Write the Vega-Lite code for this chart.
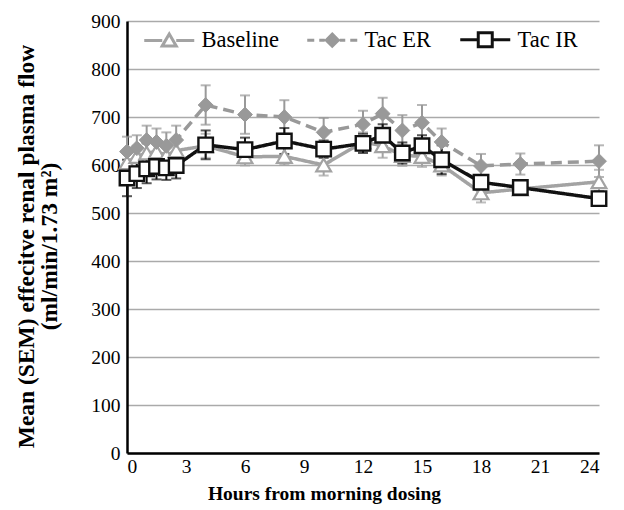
{
  "$schema": "https://vega.github.io/schema/vega-lite/v6.json",
  "width": 472,
  "height": 432,
  "autosize": {"type": "none"},
  "padding": {"left": 127, "top": 21, "right": 25, "bottom": 57},
  "background": "white",
  "config": {"font": "Liberation Serif", "view": {"stroke": null}},
  "data": {
    "values": [
      {"hour": 0, "group": "Baseline", "mean": 605, "sem": 22},
      {"hour": 0.5, "group": "Baseline", "mean": 618, "sem": 22},
      {"hour": 1, "group": "Baseline", "mean": 625, "sem": 25},
      {"hour": 1.5, "group": "Baseline", "mean": 628, "sem": 22},
      {"hour": 2, "group": "Baseline", "mean": 620, "sem": 20},
      {"hour": 2.5, "group": "Baseline", "mean": 630, "sem": 22},
      {"hour": 4, "group": "Baseline", "mean": 640, "sem": 25},
      {"hour": 6, "group": "Baseline", "mean": 617, "sem": 18},
      {"hour": 8, "group": "Baseline", "mean": 618, "sem": 18},
      {"hour": 10, "group": "Baseline", "mean": 600, "sem": 22},
      {"hour": 12, "group": "Baseline", "mean": 648, "sem": 20},
      {"hour": 13, "group": "Baseline", "mean": 640, "sem": 25},
      {"hour": 14, "group": "Baseline", "mean": 620, "sem": 22},
      {"hour": 15, "group": "Baseline", "mean": 618, "sem": 22},
      {"hour": 16, "group": "Baseline", "mean": 600, "sem": 22},
      {"hour": 18, "group": "Baseline", "mean": 542, "sem": 20},
      {"hour": 20, "group": "Baseline", "mean": 550, "sem": 12},
      {"hour": 24, "group": "Baseline", "mean": 565, "sem": 25},
      {"hour": 0, "group": "Tac ER", "mean": 628, "sem": 31},
      {"hour": 0.5, "group": "Tac ER", "mean": 635, "sem": 27},
      {"hour": 1, "group": "Tac ER", "mean": 652, "sem": 30},
      {"hour": 1.5, "group": "Tac ER", "mean": 648, "sem": 28},
      {"hour": 2, "group": "Tac ER", "mean": 640, "sem": 28},
      {"hour": 2.5, "group": "Tac ER", "mean": 652, "sem": 30},
      {"hour": 4, "group": "Tac ER", "mean": 725, "sem": 41},
      {"hour": 6, "group": "Tac ER", "mean": 705, "sem": 40},
      {"hour": 8, "group": "Tac ER", "mean": 700, "sem": 35},
      {"hour": 10, "group": "Tac ER", "mean": 668, "sem": 30},
      {"hour": 12, "group": "Tac ER", "mean": 685, "sem": 28},
      {"hour": 13, "group": "Tac ER", "mean": 707, "sem": 33},
      {"hour": 14, "group": "Tac ER", "mean": 672, "sem": 32},
      {"hour": 15, "group": "Tac ER", "mean": 688, "sem": 37},
      {"hour": 16, "group": "Tac ER", "mean": 648, "sem": 28},
      {"hour": 18, "group": "Tac ER", "mean": 598, "sem": 25},
      {"hour": 20, "group": "Tac ER", "mean": 602, "sem": 22},
      {"hour": 24, "group": "Tac ER", "mean": 608, "sem": 33},
      {"hour": 0, "group": "Tac IR", "mean": 573, "sem": 38},
      {"hour": 0.5, "group": "Tac IR", "mean": 582, "sem": 30},
      {"hour": 1, "group": "Tac IR", "mean": 592, "sem": 30},
      {"hour": 1.5, "group": "Tac IR", "mean": 597, "sem": 27},
      {"hour": 2, "group": "Tac IR", "mean": 594, "sem": 25},
      {"hour": 2.5, "group": "Tac IR", "mean": 599, "sem": 27},
      {"hour": 4, "group": "Tac IR", "mean": 642, "sem": 30},
      {"hour": 6, "group": "Tac IR", "mean": 632, "sem": 25},
      {"hour": 8, "group": "Tac IR", "mean": 650, "sem": 27},
      {"hour": 10, "group": "Tac IR", "mean": 633, "sem": 18},
      {"hour": 12, "group": "Tac IR", "mean": 645, "sem": 20},
      {"hour": 13, "group": "Tac IR", "mean": 662, "sem": 23},
      {"hour": 14, "group": "Tac IR", "mean": 625, "sem": 22},
      {"hour": 15, "group": "Tac IR", "mean": 640, "sem": 22},
      {"hour": 16, "group": "Tac IR", "mean": 611, "sem": 30},
      {"hour": 18, "group": "Tac IR", "mean": 564, "sem": 15},
      {"hour": 20, "group": "Tac IR", "mean": 553, "sem": 12},
      {"hour": 24, "group": "Tac IR", "mean": 530, "sem": 15}
    ]
  },
  "encoding": {
    "x": {
      "field": "hour",
      "type": "quantitative",
      "scale": {"domain": [0, 24], "nice": false},
      "axis": {
        "values": [0, 3, 6, 9, 12, 15, 18, 21, 24],
        "grid": false,
        "ticks": false,
        "domainColor": "black",
        "domainWidth": 2.5,
        "labelPadding": 4,
        "labelFontSize": 19.5,
        "labelColor": "black",
        "labelFont": "Liberation Serif",
        "title": "Hours from morning dosing",
        "titleFont": "Liberation Serif",
        "titleFontSize": 19.5,
        "titleFontWeight": "bold",
        "titleColor": "black",
        "titleX": 197,
        "titleY": 46,
        "titleBaseline": "alphabetic",
        "titleAlign": "center"
      }
    },
    "y": {
      "field": "mean",
      "type": "quantitative",
      "scale": {"domain": [0, 900], "nice": false},
      "axis": {
        "values": [0, 100, 200, 300, 400, 500, 600, 700, 800, 900],
        "grid": true,
        "gridColor": "#aaaaaa",
        "gridWidth": 1.5,
        "ticks": false,
        "domainColor": "black",
        "domainWidth": 2.5,
        "labelPadding": 7,
        "labelFontSize": 19.5,
        "labelColor": "black",
        "labelFont": "Liberation Serif",
        "title": ["Mean (SEM) effecitve renal plasma flow", "(ml/min/1.73 m²)"],
        "titleFont": "Liberation Serif",
        "titleFontSize": 23.5,
        "titleFontWeight": "bold",
        "titleColor": "black",
        "titleAngle": -90,
        "titleX": -101,
        "titleY": 225,
        "titleAlign": "center",
        "titleBaseline": "middle",
        "titleLineHeight": 23
      }
    }
  },
  "layer": [
    {
      "transform": [{"filter": "datum.group === 'Baseline'"}],
      "mark": {"type": "errorbar", "color": "#a3a3a3", "ticks": {"size": 10, "thickness": 2}, "rule": {"strokeWidth": 2}},
      "encoding": {"yError": {"field": "sem"}}
    },
    {
      "transform": [{"filter": "datum.group === 'Tac ER'"}],
      "mark": {"type": "errorbar", "color": "#999999", "ticks": {"size": 10, "thickness": 2}, "rule": {"strokeWidth": 2}},
      "encoding": {"yError": {"field": "sem"}}
    },
    {
      "transform": [{"filter": "datum.group === 'Tac IR'"}],
      "mark": {"type": "errorbar", "color": "#111111", "ticks": {"size": 10, "thickness": 2}, "rule": {"strokeWidth": 2}},
      "encoding": {"yError": {"field": "sem"}}
    },
    {
      "mark": {"type": "line", "strokeWidth": 3.5},
      "encoding": {
        "color": {
          "field": "group",
          "type": "nominal",
          "scale": {"domain": ["Baseline", "Tac ER", "Tac IR"], "range": ["#a3a3a3", "#999999", "#111111"]},
          "legend": {
            "title": null,
            "orient": "none",
            "legendX": 31,
            "legendY": 7,
            "direction": "horizontal",
            "symbolSize": 100,
            "labelOffset": 21,
            "labelFontSize": 22.5,
            "labelFont": "Liberation Serif",
            "labelColor": "black",
            "columnPadding": 22,
            "encode": {
              "symbols": {
                "update": {
                  "shape": {"signal": "datum.value === 'Baseline' ? 'M-5,0H-1.4M1.4,0H5M-1.4,1.1L0,-1.3L1.4,1.1Z' : datum.value === 'Tac ER' ? 'M-5,0H-3.6M-2.6,0H-1.5M1.5,0H2.6M3.6,0H5M0,-1.2L1.2,0L0,1.2L-1.2,0Z' : 'M-5,0H-1.4M1.4,0H5M-1.4,-1.4H1.4V1.4H-1.4Z'"},
                  "fill": {"signal": "datum.value === 'Tac ER' ? '#999999' : 'white'"},
                  "strokeDash": {"value": []},
                  "strokeWidth": {"value": 3},
                  "opacity": {"value": 1}
                }
              }
            }
          }
        },
        "strokeDash": {
          "condition": {"test": "datum.group === 'Tac ER'", "value": [11, 6]},
          "value": [1, 0]
        }
      }
    },
    {
      "transform": [{"filter": "datum.group === 'Baseline'"}],
      "mark": {"type": "point", "shape": "triangle-up", "filled": true, "fill": "white", "stroke": "#a3a3a3", "strokeWidth": 2.2, "opacity": 1, "size": 220}
    },
    {
      "transform": [{"filter": "datum.group === 'Tac ER'"}],
      "mark": {"type": "point", "shape": "diamond", "filled": true, "fill": "#999999", "stroke": "#999999", "strokeWidth": 1, "opacity": 1, "size": 220}
    },
    {
      "transform": [{"filter": "datum.group === 'Tac IR'"}],
      "mark": {"type": "point", "shape": "square", "filled": true, "fill": "white", "stroke": "#111111", "strokeWidth": 2.4, "opacity": 1, "size": 210}
    }
  ]
}
